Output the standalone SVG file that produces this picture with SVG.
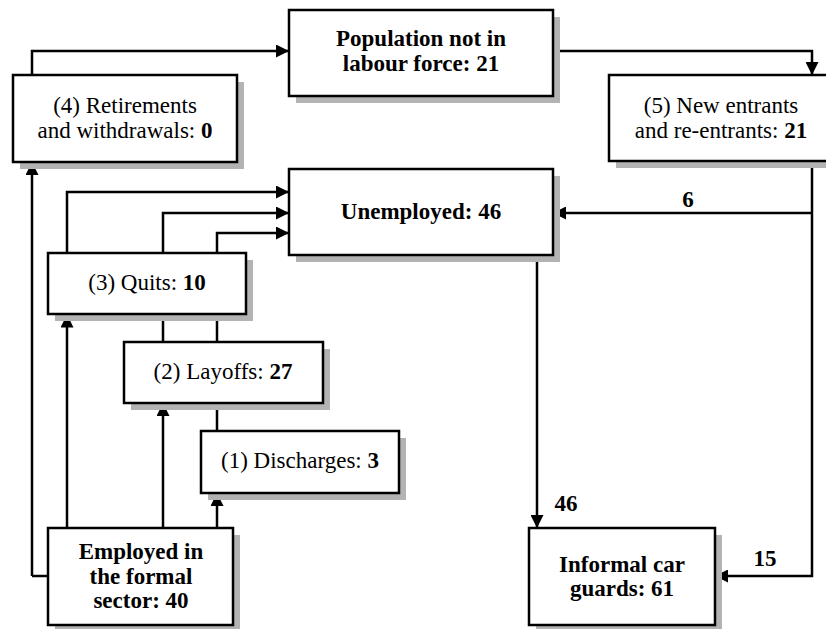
<svg xmlns="http://www.w3.org/2000/svg" width="826" height="629" viewBox="0 0 826 629">
<defs>
<style>
.box{fill:#fff;stroke:#000;stroke-width:2.5}
.sh{fill:#b3b3b3}
.t{font-family:"Liberation Serif","Times New Roman",serif;font-size:23px;fill:#000;text-anchor:middle}
.b{font-weight:bold}
.c{fill:none;stroke:#000;stroke-width:2.5}
</style>
<marker id="ah" viewBox="0 0 13 13" markerWidth="13" markerHeight="13" refX="13" refY="6.5" orient="auto" markerUnits="userSpaceOnUse">
<path d="M0,0 L13,6.5 L0,13 Z" fill="#000"/>
</marker>
</defs>
<rect width="826" height="629" fill="#fff"/>
<g id="connectors">
<path class="c" d="M32,75 V51 H289" marker-end="url(#ah)"/>
<path class="c" d="M553,51 H812 V75" marker-end="url(#ah)"/>
<path class="c" d="M32,576 H48" />
<path class="c" d="M32,576 V162" marker-end="url(#ah)"/>
<path class="c" d="M67,528 V314.5" marker-end="url(#ah)"/>
<path class="c" d="M163,528 V403" marker-end="url(#ah)"/>
<path class="c" d="M217,528 V493" marker-end="url(#ah)"/>
<path class="c" d="M67,253 V192 H289" marker-end="url(#ah)"/>
<path class="c" d="M163,342 V213 H289" marker-end="url(#ah)"/>
<path class="c" d="M217,431 V233 H289" marker-end="url(#ah)"/>
<path class="c" d="M812,161 V576 H715" marker-end="url(#ah)"/>
<path class="c" d="M812,213 H553" marker-end="url(#ah)"/>
<path class="c" d="M537,255 V528" marker-end="url(#ah)"/>
<text class="t b" x="688" y="207">6</text>
<text class="t b" x="566" y="511">46</text>
<text class="t b" x="765" y="566">15</text>
</g>
<g id="population">
<rect class="sh" x="296" y="17" width="264" height="86"/>
<rect class="box" x="289" y="10" width="264" height="86"/>
<text class="t b" x="421" y="46">Population not in</text>
<text class="t b" x="421" y="71">labour force: 21</text>
</g>
<g id="retirements">
<rect class="sh" x="20" y="82" width="224" height="87"/>
<rect class="box" x="13" y="75" width="224" height="87"/>
<text class="t" x="125" y="113">(4) Retirements</text>
<text class="t" x="125" y="138">and withdrawals: <tspan class="b">0</tspan></text>
</g>
<g id="newentrants">
<rect class="sh" x="616" y="82" width="224" height="86"/>
<rect class="box" x="609" y="75" width="224" height="86"/>
<text class="t" x="721" y="113">(5) New entrants</text>
<text class="t" x="721" y="138">and re-entrants: <tspan class="b">21</tspan></text>
</g>
<g id="unemployed">
<rect class="sh" x="296" y="176" width="264" height="86"/>
<rect class="box" x="289" y="169" width="264" height="86"/>
<text class="t b" x="421" y="219">Unemployed: 46</text>
</g>
<g id="quits">
<rect class="sh" x="55" y="260" width="198" height="61"/>
<rect class="box" x="48" y="253" width="198" height="61"/>
<text class="t" x="147" y="290">(3) Quits: <tspan class="b">10</tspan></text>
</g>
<g id="layoffs">
<rect class="sh" x="131" y="349" width="199" height="61"/>
<rect class="box" x="124" y="342" width="199" height="61"/>
<text class="t" x="223" y="379">(2) Layoffs: <tspan class="b">27</tspan></text>
</g>
<g id="discharges">
<rect class="sh" x="208" y="438" width="198" height="62"/>
<rect class="box" x="201" y="431" width="198" height="62"/>
<text class="t" x="300" y="468">(1) Discharges: <tspan class="b">3</tspan></text>
</g>
<g id="employed">
<rect class="sh" x="55" y="535" width="185" height="97"/>
<rect class="box" x="48" y="528" width="185" height="97"/>
<text class="t b" x="141" y="559">Employed in</text>
<text class="t b" x="141" y="584">the formal</text>
<text class="t b" x="141" y="608">sector: 40</text>
</g>
<g id="informal">
<rect class="sh" x="536" y="535" width="186" height="97"/>
<rect class="box" x="529" y="528" width="186" height="97"/>
<text class="t b" x="622" y="572">Informal car</text>
<text class="t b" x="622" y="596">guards: 61</text>
</g>
</svg>
